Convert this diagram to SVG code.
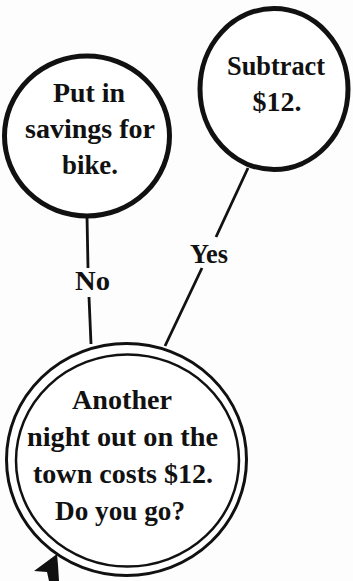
<svg xmlns="http://www.w3.org/2000/svg" width="353" height="581" viewBox="0 0 353 581">
<style>
.bg{fill:#fdfdfd}
.node{fill:#ffffff;stroke:#111;stroke-width:5}
.dbl{fill:#ffffff;stroke:#111;stroke-width:3}
.dbl2{fill:none;stroke:#111;stroke-width:2.5}
.conn{stroke:#111;stroke-width:2.8;fill:none;stroke-linecap:butt}
text{font-family:"Liberation Serif","Times New Roman",serif;font-weight:bold;font-size:27px;fill:#111;text-anchor:middle}
</style>
<rect class="bg" x="0" y="0" width="353" height="581"/>
<g id="node-savings">
<ellipse class="node" cx="87" cy="136" rx="82.5" ry="80"/>
<text x="89" y="102" textLength="72" lengthAdjust="spacingAndGlyphs">Put in</text>
<text x="90" y="138" textLength="130" lengthAdjust="spacingAndGlyphs">savings for</text>
<text x="90" y="174" textLength="56" lengthAdjust="spacingAndGlyphs">bike.</text>
</g>
<g id="node-subtract">
<ellipse class="node" cx="274" cy="89" rx="74" ry="80.5"/>
<text x="276" y="75" textLength="98" lengthAdjust="spacingAndGlyphs">Subtract</text>
<text x="277" y="111" textLength="49" lengthAdjust="spacingAndGlyphs">$12.</text>
</g>
<g id="node-question">
<ellipse class="dbl" cx="126.5" cy="459.5" rx="120" ry="116"/>
<ellipse class="dbl2" cx="127.5" cy="460.5" rx="111.5" ry="106"/>
<text x="122" y="409" textLength="100" lengthAdjust="spacingAndGlyphs">Another</text>
<text x="122.5" y="446" textLength="191" lengthAdjust="spacingAndGlyphs">night out on the</text>
<text x="123" y="483" textLength="180" lengthAdjust="spacingAndGlyphs">town costs $12.</text>
<text x="120" y="520" textLength="130" lengthAdjust="spacingAndGlyphs">Do you go?</text>
</g>
<g id="connectors">
<line class="conn" x1="87" y1="216" x2="88" y2="268"/>
<line class="conn" x1="89" y1="297" x2="91" y2="344"/>
<line class="conn" x1="248" y1="168" x2="216" y2="237"/>
<line class="conn" x1="202" y1="268" x2="165" y2="346"/>
<polygon points="57,554 34,571 47,572 49,581 59,581 58,565" fill="#111"/>
<text x="92.5" y="290" textLength="35" lengthAdjust="spacingAndGlyphs">No</text>
<text x="209" y="263" textLength="38" lengthAdjust="spacingAndGlyphs">Yes</text>
</g>
</svg>
